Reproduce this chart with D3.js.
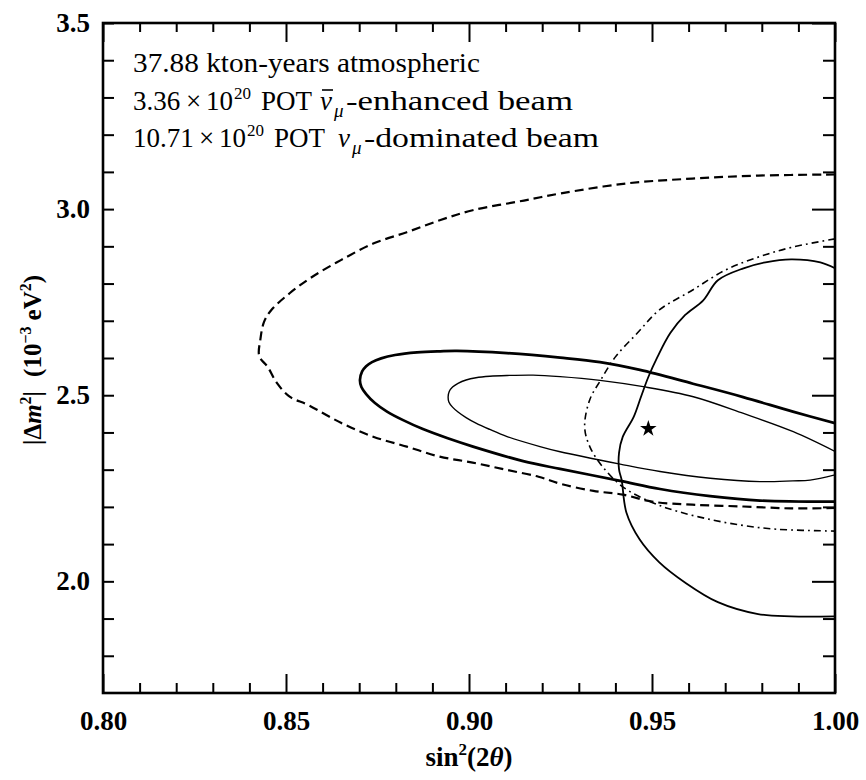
<!DOCTYPE html>
<html>
<head>
<meta charset="utf-8">
<script src="https://cdn.jsdelivr.net/npm/d3@7"></script>
<style>
  body { margin: 0; background: #fff; }
</style>
</head>
<body>
<svg id="chart" width="866" height="780"></svg>
<script>
// Axis ticks
const xTicks = [0.80, 0.85, 0.90, 0.95, 1.00];
const yTicks = [2.0, 2.5, 3.0, 3.5];

// Best-fit point [sin^2(2θ), |Δm^2| (1e-3 eV^2)]
const bestFit = [[0.949, 2.41]];

// 90% C.L. contour, atmospheric only (dashed)
const atmContour = [
  [1.000, 3.093], [0.979, 3.090], [0.961, 3.082], [0.943, 3.069], [0.925, 3.042],
  [0.915, 3.023], [0.901, 2.997], [0.892, 2.970], [0.883, 2.938], [0.874, 2.908],
  [0.865, 2.863], [0.857, 2.817], [0.851, 2.774], [0.846, 2.729], [0.844, 2.697],
  [0.843, 2.650], [0.8427, 2.605], [0.845, 2.576], [0.8475, 2.533], [0.851, 2.496],
  [0.856, 2.474], [0.865, 2.426], [0.874, 2.388], [0.883, 2.362], [0.892, 2.335],
  [0.901, 2.319], [0.910, 2.300], [0.919, 2.281], [0.925, 2.262], [0.934, 2.243],
  [0.942, 2.233], [0.950, 2.214], [0.961, 2.206], [0.975, 2.201], [0.988, 2.196],
  [1.000, 2.197]
];

// 90% C.L. contour, antineutrino-enhanced beam (dash-dot)
const antinuContour = [
  [1.000, 2.920], [0.988, 2.897], [0.979, 2.871], [0.970, 2.836], [0.961, 2.782],
  [0.952, 2.729], [0.946, 2.667], [0.940, 2.603], [0.936, 2.541], [0.933, 2.488],
  [0.9316, 2.415], [0.933, 2.362], [0.9365, 2.308], [0.942, 2.254], [0.950, 2.212],
  [0.957, 2.188], [0.966, 2.166], [0.975, 2.150], [0.984, 2.140], [1.000, 2.135]
];

// 90% C.L. contour, neutrino-dominated beam (thin solid)
const nuContour = [
  [1.000, 2.841], [0.996, 2.857], [0.988, 2.865], [0.981, 2.857], [0.975, 2.841],
  [0.968, 2.809], [0.964, 2.755], [0.959, 2.715], [0.955, 2.667], [0.9515, 2.603],
  [0.949, 2.549], [0.947, 2.496], [0.945, 2.442], [0.942, 2.388], [0.941, 2.346],
  [0.941, 2.300], [0.9417, 2.273], [0.943, 2.185], [0.9466, 2.113], [0.952, 2.051],
  [0.959, 1.997], [0.968, 1.944], [0.979, 1.912], [0.988, 1.906], [1.000, 1.906]
];

// Combined fit, 90% C.L. (thick solid)
const combined90 = [
  [1.0000, 2.425], [0.9885, 2.456], [0.9749, 2.495], [0.9612, 2.531], [0.9467, 2.568],
  [0.9358, 2.589], [0.9249, 2.601], [0.9104, 2.613], [0.8967, 2.619], [0.8921, 2.618],
  [0.8858, 2.615], [0.8798, 2.608], [0.8760, 2.599], [0.8735, 2.589], [0.8719, 2.578],
  [0.8708, 2.564], [0.8702, 2.541], [0.8706, 2.522], [0.8719, 2.503], [0.8743, 2.479],
  [0.8776, 2.456], [0.8820, 2.433], [0.8874, 2.409], [0.8940, 2.385], [0.9011, 2.362],
  [0.9148, 2.323], [0.9249, 2.302], [0.9413, 2.270], [0.9522, 2.248], [0.9659, 2.229],
  [0.9795, 2.217], [1.0000, 2.214]
];

// Combined fit, 68% C.L. (thin solid)
const combined68 = [
  [1.0000, 2.349], [0.9886, 2.402], [0.9750, 2.451], [0.9613, 2.496], [0.9476, 2.523],
  [0.9358, 2.540], [0.9249, 2.550], [0.9175, 2.554], [0.9104, 2.553], [0.9057, 2.551],
  [0.9019, 2.547], [0.8992, 2.541], [0.8970, 2.532], [0.8955, 2.522], [0.8946, 2.510],
  [0.8943, 2.496], [0.8945, 2.482], [0.8955, 2.468], [0.8970, 2.455], [0.8992, 2.440],
  [0.9019, 2.425], [0.9057, 2.408], [0.9104, 2.389], [0.9194, 2.362], [0.9249, 2.348],
  [0.9413, 2.315], [0.9522, 2.295], [0.9659, 2.277], [0.9795, 2.268], [0.9885, 2.270],
  [0.9932, 2.272], [1.0000, 2.286]
];

// Exposure notes
const noteAtm = "37.88 kton-years atmospheric";
const noteAntinu = { pot: "3.36", tail: "-enhanced beam" };
const noteNu = { pot: "10.71", tail: "-dominated beam" };

const serif = "'Liberation Serif', 'DejaVu Serif', serif";
const svg = d3.select("#chart");

const x = d3.scaleLinear().domain([0.80, 1.00]).range([103, 835]);
const y = d3.scaleLinear().domain([1.7, 3.5]).range([693, 23]);
const [x0, x1] = x.range();
const [y0, y1] = y.range();

svg.append("defs").append("clipPath").attr("id", "plot-clip")
  .append("rect")
  .attr("x", x0).attr("y", y1)
  .attr("width", x1 - x0).attr("height", y0 - y1);

// ---- contours ----
const line = d3.line()
  .x(d => x(d[0]))
  .y(d => y(d[1]))
  .curve(d3.curveCatmullRom.alpha(0.5));

const curves = svg.append("g")
  .attr("clip-path", "url(#plot-clip)")
  .attr("fill", "none")
  .attr("stroke", "#000")
  .attr("stroke-linejoin", "round");

curves.append("path").datum(atmContour)
  .attr("d", line).attr("stroke-width", 2.2).attr("stroke-dasharray", "9,5");
curves.append("path").datum(antinuContour)
  .attr("d", line).attr("stroke-width", 1.6).attr("stroke-dasharray", "7,4,1.8,4");
curves.append("path").datum(nuContour)
  .attr("d", line).attr("stroke-width", 1.8);
curves.append("path").datum(combined90)
  .attr("d", line).attr("stroke-width", 2.7);
curves.append("path").datum(combined68)
  .attr("d", line).attr("stroke-width", 1.4);

svg.append("g").selectAll("path").data(bestFit).join("path")
  .attr("transform", d => `translate(${x(d[0])},${y(d[1])})`)
  .attr("d", d3.symbol(d3.symbolStar, 85))
  .attr("fill", "#000");

// ---- axes ----
const xMinor = d3.range(81, 100).map(d => d / 100).filter(v => !xTicks.some(t => Math.abs(t - v) < 1e-9));
const yMinor = d3.range(18, 35).map(d => d / 10).filter(v => !yTicks.some(t => Math.abs(t - v) < 1e-9));

function styleAxis(g) {
  g.select(".domain").remove();
  g.selectAll(".tick line").attr("stroke", "#000").attr("stroke-width", 2);
}
function styleLabels(g) {
  g.selectAll("text")
    .attr("font-family", serif).attr("font-size", 27)
    .attr("font-weight", "bold").attr("fill", "#000");
}

// bottom
svg.append("g").attr("transform", `translate(0,${y0})`)
  .call(d3.axisBottom(x).tickValues(xMinor).tickSize(-10).tickFormat(""))
  .call(styleAxis);
svg.append("g").attr("transform", `translate(0,${y0})`)
  .call(d3.axisBottom(x).tickValues(xTicks).tickSize(-19).tickPadding(18).tickFormat(d3.format(".2f")))
  .call(styleAxis).call(styleLabels);

// top
svg.append("g").attr("transform", `translate(0,${y1})`)
  .call(d3.axisTop(x).tickValues(xMinor).tickSize(-9).tickFormat(""))
  .call(styleAxis);
svg.append("g").attr("transform", `translate(0,${y1})`)
  .call(d3.axisTop(x).tickValues(xTicks).tickSize(-19).tickFormat(""))
  .call(styleAxis);

// left
svg.append("g").attr("transform", `translate(${x0},0)`)
  .call(d3.axisLeft(y).tickValues(yMinor).tickSize(-11).tickFormat(""))
  .call(styleAxis);
svg.append("g").attr("transform", `translate(${x0},0)`)
  .call(d3.axisLeft(y).tickValues(yTicks).tickSize(-11).tickPadding(13).tickFormat(d3.format(".1f")))
  .call(styleAxis).call(styleLabels);

// right
svg.append("g").attr("transform", `translate(${x1},0)`)
  .call(d3.axisRight(y).tickValues(yMinor).tickSize(-12).tickFormat(""))
  .call(styleAxis);
svg.append("g").attr("transform", `translate(${x1},0)`)
  .call(d3.axisRight(y).tickValues(yTicks).tickSize(-23).tickFormat(""))
  .call(styleAxis);

// frame
svg.append("rect")
  .attr("x", x0).attr("y", y1)
  .attr("width", x1 - x0).attr("height", y0 - y1)
  .attr("fill", "none").attr("stroke", "#000").attr("stroke-width", 2.6);

// ---- axis titles ----
const xTitle = svg.append("text")
  .attr("x", (x0 + x1) / 2).attr("y", 766)
  .attr("text-anchor", "middle")
  .attr("font-family", serif).attr("font-size", 27).attr("font-weight", "bold").attr("fill", "#000");
xTitle.append("tspan").text("sin");
xTitle.append("tspan").attr("font-size", 17).attr("dy", -11).text("2");
xTitle.append("tspan").attr("dy", 11).text("(2");
xTitle.append("tspan").attr("font-style", "italic").text("θ");
xTitle.append("tspan").text(")");

const yTitle = svg.append("text")
  .attr("transform", `translate(41,${(y0 + y1) / 2 + 2}) rotate(-90)`)
  .attr("text-anchor", "middle")
  .attr("font-family", serif).attr("font-size", 25).attr("font-weight", "bold").attr("fill", "#000");
yTitle.append("tspan").text("|Δ");
yTitle.append("tspan").attr("font-style", "italic").text("m");
yTitle.append("tspan").attr("font-size", 16).attr("dy", -10).text("2");
yTitle.append("tspan").attr("dy", 10).text("|");
yTitle.append("tspan").attr("dx", 14).text("(10");
yTitle.append("tspan").attr("font-size", 16).attr("dy", -10).text("−3");
yTitle.append("tspan").attr("dy", 10).attr("dx", 6).text("eV");
yTitle.append("tspan").attr("font-size", 16).attr("dy", -10).text("2");
yTitle.append("tspan").attr("dy", 10).text(")");

// ---- exposure notes ----
const notes = svg.append("g")
  .attr("font-family", serif).attr("font-size", 27).attr("fill", "#000");

function put(txt, px, py, opts = {}) {
  const t = notes.append("text").attr("x", px).attr("y", py).text(txt);
  if (opts.size) t.attr("font-size", opts.size);
  if (opts.italic) t.attr("font-style", "italic");
  if (opts.len) t.attr("textLength", opts.len).attr("lengthAdjust", "spacingAndGlyphs");
  return t;
}

put(noteAtm, 133, 72, { len: 347 });

// columns: [value, ×, 10, exponent, POT, ν, μ, tail start, tail end]
function beamLine(note, py, cols, bar) {
  put(note.pot, cols[0], py);
  put("×", cols[1], py);
  put("10", cols[2], py);
  put("20", cols[3], py - 11, { size: 17 });
  put("POT", cols[4], py);
  const nu = put("ν", cols[5], py, { italic: true });
  put("μ", cols[6], py + 7, { size: 19, italic: true });
  put(note.tail, cols[7], py, { len: cols[8] - cols[7] });
  if (bar) {
    const b = nu.node().getBBox();
    notes.append("line")
      .attr("x1", b.x + 2).attr("x2", b.x + b.width + 1)
      .attr("y1", py - 20).attr("y2", py - 20)
      .attr("stroke", "#000").attr("stroke-width", 1.6);
  }
}
beamLine(noteAntinu, 110, [133, 186, 206, 234, 261, 320, 334, 346, 573], true);
beamLine(noteNu, 147, [133, 199, 219, 247, 274, 338, 352, 364, 599], false);
</script>
</body>
</html>
